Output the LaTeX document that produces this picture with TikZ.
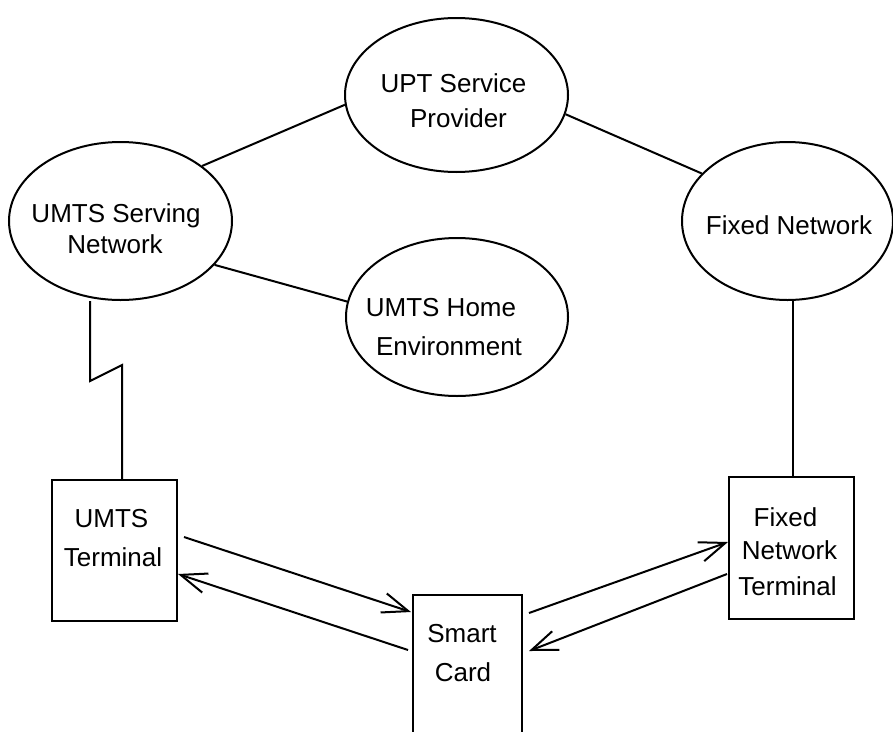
\documentclass[tikz,border=0pt]{standalone}
\usepackage{fontspec}
\setmainfont{Liberation Sans}
\usetikzlibrary{shapes.geometric,arrows.meta}
\begin{document}
\begin{tikzpicture}[x=1pt,y=-1pt,line width=2pt,
  ell/.style={draw,ellipse,inner sep=0pt},
  box/.style={draw,rectangle,inner sep=0pt},
  txt/.style={anchor=base,inner sep=0pt,font=\fontsize{26}{31}\selectfont},
  arr/.style={-{Straight Barb[length=26pt,width=20pt]}}]
\useasboundingbox (0,0) rectangle (893,731);
% ellipses
\node[ell,minimum width=223,minimum height=154] (upt) at (456.5,95) {};
\node[ell,minimum width=223,minimum height=158] (serv) at (120.5,221) {};
\node[ell,minimum width=211,minimum height=158] (fix) at (787.5,221) {};
\node[ell,minimum width=222,minimum height=158] (home) at (457,317) {};
% boxes
\node[box,minimum width=125,minimum height=141] (ut) at (114.5,550.5) {};
\node[box,minimum width=109,minimum height=170] (sc) at (467.5,680) {};
\node[box,minimum width=125,minimum height=142] (fnt) at (791.5,548) {};
% texts
\node[txt] (upt1) at (453.5,92) {UPT Service};
\node[txt] (upt2) at (458.5,127) {Provider};
\node[txt] (serv1) at (116,222) {UMTS Serving};
\node[txt] (serv2) at (115,253) {Network};
\node[txt] (fix1) at (789,234) {Fixed Network};
\node[txt] (home1) at (441,316) {UMTS Home};
\node[txt] (home2) at (449,355) {Environment};
\node[txt] (ut1) at (111.5,527) {UMTS};
\node[txt] (ut2) at (113,566) {Terminal};
\node[txt] (sc1) at (462,642) {Smart};
\node[txt] (sc2) at (463,681) {Card};
\node[txt] (fnt1) at (785.5,526) {Fixed};
\node[txt] (fnt2) at (789.5,559) {Network};
\node[txt] (fnt3) at (787.5,595) {Terminal};
% links
\draw (serv.34) -- (upt.185.6);
\draw (upt.-10) -- (fix.151);
\draw (serv.-25) -- (home.172);
\draw ([xshift=1.5pt]fnt.north) -- ([xshift=1.5pt]fnt.north |- fix.south);
\coordinate (zz) at (90,381);
\draw ([xshift=7.5pt]ut.north) -- ++(0,-114) -- (zz) -- (zz |- serv.south);
% arrows
\draw[arr] ([xshift=6pt,yshift=13.5pt]ut.east) -- ([xshift=-1pt,yshift=-18pt]sc.north west);
\draw[arr] ([xshift=-4pt,yshift=-56pt]sc.north west) -- ([yshift=-23.5pt]ut.east);
\draw[arr] ([xshift=6pt,yshift=-19pt]sc.north east) -- ([yshift=6pt]fnt.west);
\draw[arr] ([xshift=-1pt,yshift=-26pt]fnt.west) -- ([xshift=6pt,yshift=-57pt]sc.north east);
\end{tikzpicture}
\end{document}
